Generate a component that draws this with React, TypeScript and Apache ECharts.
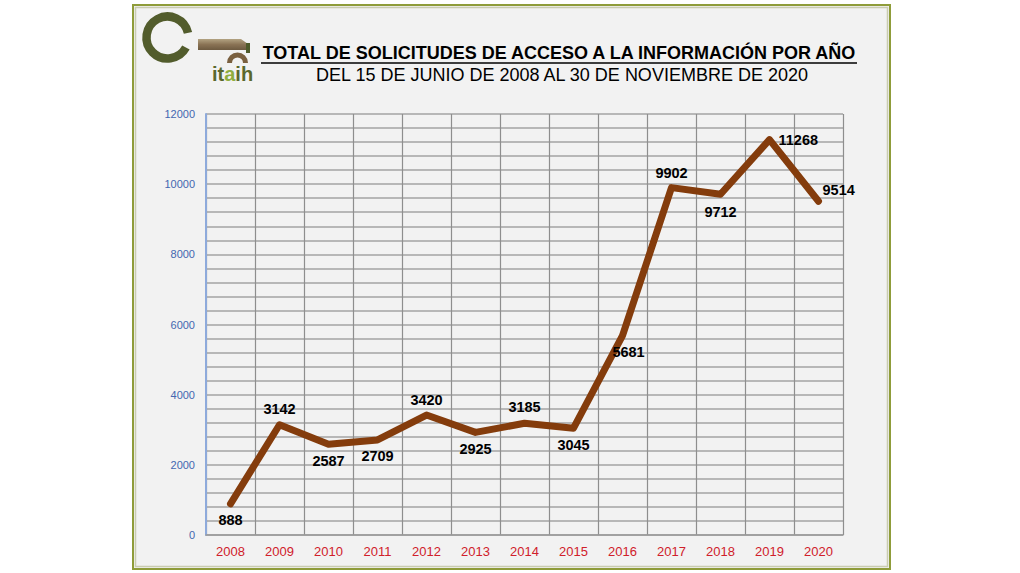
import React, { useEffect, useRef } from "react";
import * as echarts from "echarts";

const years = ["2008", "2009", "2010", "2011", "2012", "2013", "2014", "2015", "2016", "2017", "2018", "2019", "2020"];
const requests = [888, 3142, 2587, 2709, 3420, 2925, 3185, 3045, 5681, 9902, 9712, 11268, 9514];
const yTicks = [0, 2000, 4000, 6000, 8000, 10000, 12000];
const titleText = "TOTAL DE SOLICITUDES DE ACCESO A LA INFORMACIÓN POR AÑO";
const subtitleText = "DEL 15 DE JUNIO DE 2008 AL 30 DE NOVIEMBRE DE 2020";

// label placement per point (style config)
const labelPlacement: Array<{ position: string; offset: number[] }> = [
  { position: "bottom", offset: [0, 0] },
  { position: "top", offset: [0, 1] },
  { position: "bottom", offset: [0, 0] },
  { position: "bottom", offset: [0, 0] },
  { position: "top", offset: [0, 1] },
  { position: "bottom", offset: [0, 0] },
  { position: "top", offset: [0, 0] },
  { position: "bottom", offset: [0, 0] },
  { position: "inside", offset: [6, 16] },
  { position: "top", offset: [0, 2] },
  { position: "bottom", offset: [0, 1] },
  { position: "right", offset: [0, 0] },
  { position: "right", offset: [-5, -11] },
];

export default function App() {
  const ref = useRef<HTMLDivElement>(null);
  useEffect(() => {
    if (!ref.current) return;
    const chart = echarts.init(ref.current, undefined, { renderer: "svg" });
    const data = requests.map((v, i) => ({
      value: v,
      label: { show: true, position: labelPlacement[i].position, offset: labelPlacement[i].offset },
    }));
    chart.setOption({
      animation: false,
      backgroundColor: "#ffffff",
      graphic: [
        {
          type: "rect",
          z: -10,
          shape: { x: 133, y: 5, width: 757, height: 564 },
          style: { fill: "#f2f2f2", stroke: "#8f9c3a", lineWidth: 2 },
        },
        {
          type: "rect",
          z: -9,
          shape: { x: 135.5, y: 7.5, width: 752, height: 559 },
          style: { fill: "none", stroke: "#c9ccb0", lineWidth: 1.5 },
        },
        // logo ring
        {
          type: "arc",
          shape: { cx: 167.5, cy: 37.5, r: 21, startAngle: 0.5, endAngle: Math.PI * 2 - 0.22, clockwise: true },
          style: { stroke: "#525c2c", lineWidth: 8.5, fill: "none" },
        },
        // logo bar
        {
          type: "polygon",
          shape: { points: [[198, 39], [241, 39], [248, 44], [248, 50], [198, 50]] },
          style: {
            fill: new echarts.graphic.LinearGradient(0, 0, 0, 1, [
              { offset: 0, color: "#b3a382" },
              { offset: 0.5, color: "#8a7355" },
              { offset: 1, color: "#6d5a40" },
            ]),
          },
        },
        {
          type: "rect",
          shape: { x: 246, y: 43, width: 4, height: 10 },
          style: { fill: "#4e5a2a" },
        },
        // arch
        {
          type: "arc",
          shape: { cx: 237.5, cy: 63, r: 8, startAngle: Math.PI, endAngle: Math.PI * 2, clockwise: true },
          style: { stroke: "#7a6040", lineWidth: 5, fill: "none" },
        },
        {
          type: "text",
          x: 212,
          y: 64,
          style: {
            text: "it{a|a}ih",
            rich: { a: { fill: "#8fae3e", font: "bold 20px 'Liberation Sans', Arial, sans-serif" } },
            fill: "#5a682c",
            font: "bold 20px 'Liberation Sans', Arial, sans-serif",
          },
        },
        // titles
        {
          type: "text",
          x: 559,
          y: 53,
          style: {
            text: titleText,
            fill: "#000000",
            font: "bold 18px 'Liberation Sans', Arial, sans-serif",
            align: "center",
            verticalAlign: "middle",
          },
        },
        {
          type: "line",
          shape: { x1: 261, y1: 63, x2: 857, y2: 63 },
          style: { stroke: "#000000", lineWidth: 1.5 },
        },
        {
          type: "text",
          x: 562,
          y: 75,
          style: {
            text: subtitleText,
            fill: "#000000",
            font: "18px 'Liberation Sans', Arial, sans-serif",
            align: "center",
            verticalAlign: "middle",
          },
        },
      ],
      grid: { left: 206, right: 177, top: 114, bottom: 38, containLabel: false },
      xAxis: {
        type: "category",
        data: years,
        boundaryGap: true,
        axisLine: { show: true, lineStyle: { color: "#9a9a9a", width: 1.5 } },
        axisTick: { show: false },
        splitLine: { show: true, interval: 0, lineStyle: { color: "#8e8e8e", width: 1.2 } },
        axisLabel: {
          color: "#d0202a",
          fontSize: 13,
          fontFamily: "'Liberation Sans', Arial, sans-serif",
          margin: 10,
          interval: 0,
        },
      },
      yAxis: {
        type: "value",
        min: 0,
        max: 12000,
        interval: 400,
        axisLine: { show: true, lineStyle: { color: "#8eaadb", width: 2 } },
        axisTick: { show: false },
        splitLine: { show: true, lineStyle: { color: "#a3a3a3", width: 1.5 } },
        axisLabel: {
          color: "#4467b0",
          fontSize: 11,
          fontFamily: "'Liberation Sans', Arial, sans-serif",
          margin: 11,
          formatter: (v: number) => (yTicks.includes(v) ? String(v) : ""),
        },
      },
      series: [
        {
          type: "line",
          data,
          symbol: "circle",
          symbolSize: 2,
          showSymbol: true,
          itemStyle: { color: "#843c0c" },
          lineStyle: { color: "#843c0c", width: 7, cap: "round", join: "round" },
          label: {
            show: true,
            color: "#000000",
            fontWeight: "bold",
            fontSize: 14.5,
            fontFamily: "'Liberation Sans', Arial, sans-serif",
            distance: 8,
          },
        },
      ],
    });
    return () => chart.dispose();
  }, []);
  return <div ref={ref} style={{ position: "absolute", left: 0, top: 0, width: 1020, height: 573 }} />;
}
